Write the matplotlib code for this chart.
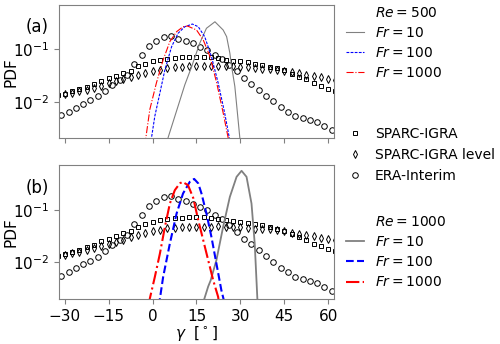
import matplotlib
matplotlib.use("Agg")
import matplotlib.pyplot as plt
from matplotlib.lines import Line2D
from matplotlib.ticker import NullLocator

# observations (same in both panels)
gamma_igra = [-32.5, -30.0, -27.5, -25.0, -22.5, -20.0, -17.5, -15.0, -12.5, -10.0,
              -7.5, -5.0, -2.5, 0.0, 2.5, 5.0, 7.5, 10.0, 12.5, 15.0,
              17.5, 20.0, 22.5, 25.0, 27.5, 30.0, 32.5, 35.0, 37.5, 40.0,
              42.5, 45.0, 47.5, 50.0, 52.5, 55.0, 57.5, 60.0, 62.5]
pdf_igra = [0.0134, 0.0143, 0.0160, 0.0175, 0.0195, 0.0217, 0.0253, 0.0282, 0.0315, 0.0359,
            0.0392, 0.0472, 0.0531, 0.0588, 0.0632, 0.0661, 0.0682, 0.0700, 0.0713, 0.0713,
            0.0713, 0.0706, 0.0676, 0.0632, 0.0605, 0.0587, 0.0567, 0.0531, 0.0508, 0.0466,
            0.0437, 0.0400, 0.0343, 0.0301, 0.0270, 0.0226, 0.0203, 0.0178, 0.0163]
pdf_level = [0.0137, 0.0141, 0.0148, 0.0158, 0.0171, 0.0184, 0.0203, 0.0226, 0.0245, 0.0272,
             0.0297, 0.0329, 0.0354, 0.0392, 0.0409, 0.0441, 0.0452, 0.0460, 0.0472, 0.0472,
             0.0472, 0.0472, 0.0481, 0.0472, 0.0472, 0.0460, 0.0452, 0.0437, 0.0422, 0.0422,
             0.0409, 0.0392, 0.0367, 0.0351, 0.0329, 0.0315, 0.0294, 0.0276, 0.0264]

gamma_era = [-31.25, -28.75, -26.25, -23.75, -21.25, -18.75, -16.25, -13.75, -11.25, -8.75,
             -6.25, -3.75, -1.25, 1.25, 3.75, 6.25, 8.75, 11.25, 13.75, 16.25,
             18.75, 21.25, 23.75, 26.25, 28.75, 31.25, 33.75, 36.25, 38.75, 41.25,
             43.75, 46.25, 48.75, 51.25, 53.75, 56.25, 58.75, 61.25]
pdf_era = [0.00548, 0.00644, 0.00767, 0.00914, 0.0108, 0.0127, 0.0163, 0.0212, 0.0264, 0.0329,
           0.0525, 0.0787, 0.118, 0.145, 0.171, 0.181, 0.158, 0.145, 0.130, 0.113,
           0.098, 0.0787, 0.066, 0.0508, 0.0379, 0.0284, 0.0219, 0.0171, 0.0131, 0.0102,
           0.0080, 0.00644, 0.00531, 0.00491, 0.00450, 0.00403, 0.00346, 0.00288]

# Re = 500 model PDFs
g500_fr10 = [4.8, 5.3, 9.3, 11.0, 13.3, 16.1, 18.4, 21.3, 24.1, 25.3, 26.4, 27.0, 28.1, 29.2, 29.8, 30.1]
p500_fr10 = [0.0015, 0.00207, 0.0105, 0.021, 0.046, 0.131, 0.253, 0.337, 0.235, 0.175,
             0.0848, 0.0472, 0.0197, 0.0046, 0.00207, 0.0015]
g500_fr100 = [-0.7, -0.37, 0.76, 2.5, 4.2, 6.5, 8.7, 11.0, 13.6, 15.6, 17.8, 20.1, 22.4, 24.6, 26.2, 26.5]
p500_fr100 = [0.0015, 0.00207, 0.00531, 0.0148, 0.0409, 0.113, 0.203, 0.271, 0.305, 0.271,
              0.175, 0.0731, 0.0229, 0.00617, 0.00207, 0.0015]
g500_fr1000 = [-2.6, -2.3, -0.95, 1.3, 3.6, 5.9, 8.2, 10.4, 11.9, 15.0, 17.3, 19.6, 21.9, 24.1, 25.8, 26.1]
p500_fr1000 = [0.0015, 0.00207, 0.00713, 0.0229, 0.0632, 0.141, 0.218, 0.271, 0.28, 0.235,
               0.152, 0.0731, 0.0229, 0.00617, 0.00207, 0.0015]

# Re = 1000 model PDFs
g1000_fr10 = [17.2, 17.5, 19.0, 19.8, 21.8, 24.1, 26.4, 28.7, 30.4, 32.1, 33.8, 34.9, 35.8, 36.1]
p1000_fr10 = [0.0015, 0.0019, 0.0035, 0.0045, 0.0110, 0.0472, 0.175, 0.42, 0.546, 0.42,
              0.131, 0.0229, 0.00207, 0.0015]
g1000_fr100 = [2.2, 2.5, 3.6, 5.9, 8.2, 10.4, 12.7, 14.2, 15.6, 16.7, 18.4, 20.1, 21.8, 23.5, 24.2, 24.5]
p1000_fr100 = [0.0015, 0.00207, 0.00531, 0.0229, 0.0848, 0.203, 0.337, 0.383, 0.315, 0.203,
               0.0848, 0.0305, 0.00955, 0.00297, 0.00207, 0.0015]
g1000_fr1000 = [-1.2, -0.95, 0.76, 2.5, 4.2, 5.9, 7.6, 9.3, 10.2, 12.1, 13.9, 15.6, 17.3, 19.0, 20.7, 22.4, 22.8]
p1000_fr1000 = [0.0015, 0.00207, 0.00531, 0.0148, 0.0472, 0.131, 0.235, 0.315, 0.337, 0.292,
                0.166, 0.0632, 0.0264, 0.0110, 0.0046, 0.00222, 0.0015]

xticks = [-30, -15, 0, 15, 30, 45, 60]

fig = plt.figure(figsize=(5, 3.44), dpi=100)
ax1 = fig.add_axes([0.118, 0.598, 0.55, 0.387])
ax2 = fig.add_axes([0.118, 0.130, 0.55, 0.390])

mk = dict(linestyle="none", markerfacecolor="none", markeredgecolor="black", markeredgewidth=0.7)


def draw_obs(ax):
    ax.plot(gamma_igra, pdf_igra, marker="s", markersize=3.4, **mk)
    ax.plot(gamma_igra, pdf_level, marker="d", markersize=4.0, **mk)
    ax.plot(gamma_era, pdf_era, marker="o", markersize=4.0, **mk)


draw_obs(ax1)
ax1.plot(g500_fr10, p500_fr10, "-", color="grey", lw=0.8)
ax1.plot(g500_fr100, p500_fr100, "--", color="blue", lw=0.8, dashes=(2.5, 1.2))
ax1.plot(g500_fr1000, p500_fr1000, "-.", color="red", lw=0.8)

draw_obs(ax2)
ax2.plot(g1000_fr10, p1000_fr10, "-", color="grey", lw=1.3)
ax2.plot(g1000_fr100, p1000_fr100, "--", color="blue", lw=1.5)
ax2.plot(g1000_fr1000, p1000_fr1000, "-.", color="red", lw=1.5)

for ax in (ax1, ax2):
    ax.set_yscale("log")
    ax.set_xlim(-32, 62)
    ax.set_ylim(2e-3, 0.7)
    ax.set_xticks(xticks)
    ax.yaxis.set_minor_locator(NullLocator())
    ax.set_ylabel("PDF", fontsize=11)
    ax.yaxis.set_label_coords(-0.148, 0.5)
    ax.tick_params(labelsize=11, color="grey")
    for s in ax.spines.values():
        s.set_color("grey")

ax1.tick_params(labelbottom=False)
ax2.set_xlabel(r"$\gamma$  [$^\circ$]", fontsize=11, labelpad=0)

fig.text(0.074, 0.922, "(a)", fontsize=12, ha="center", va="center")
fig.text(0.074, 0.453, "(b)", fontsize=12, ha="center", va="center")

blank = Line2D([], [], color="none")
h_top = [blank,
         Line2D([], [], color="grey", lw=0.8),
         Line2D([], [], color="blue", lw=0.8, ls="--", dashes=(2.5, 1.2)),
         Line2D([], [], color="red", lw=0.8, ls="-.")]
fig.legend(h_top, [r"$Re=500$", r"$Fr=10$", r"$Fr=100$", r"$Fr=1000$"],
           loc="upper left", bbox_to_anchor=(0.68, 1.0), frameon=False, fontsize=10,
           handlelength=1.3, handletextpad=0.8, labelspacing=0.45, borderaxespad=0)

h_obs = [Line2D([], [], marker="s", markersize=3.4, **mk),
         Line2D([], [], marker="d", markersize=4.0, **mk),
         Line2D([], [], marker="o", markersize=4.0, **mk)]
fig.legend(h_obs, ["SPARC-IGRA", "SPARC-IGRA level", "ERA-Interim"],
           loc="upper left", bbox_to_anchor=(0.68, 0.646), frameon=False, fontsize=10,
           handlelength=1.3, handletextpad=0.8, labelspacing=0.5, borderaxespad=0, numpoints=1)

h_bot = [blank,
         Line2D([], [], color="grey", lw=1.3),
         Line2D([], [], color="blue", lw=1.5, ls="--"),
         Line2D([], [], color="red", lw=1.5, ls="-.")]
fig.legend(h_bot, [r"$Re=1000$", r"$Fr=10$", r"$Fr=100$", r"$Fr=1000$"],
           loc="upper left", bbox_to_anchor=(0.68, 0.392), frameon=False, fontsize=10,
           handlelength=1.3, handletextpad=0.8, labelspacing=0.45, borderaxespad=0)

fig.savefig("out.png", dpi=100)
